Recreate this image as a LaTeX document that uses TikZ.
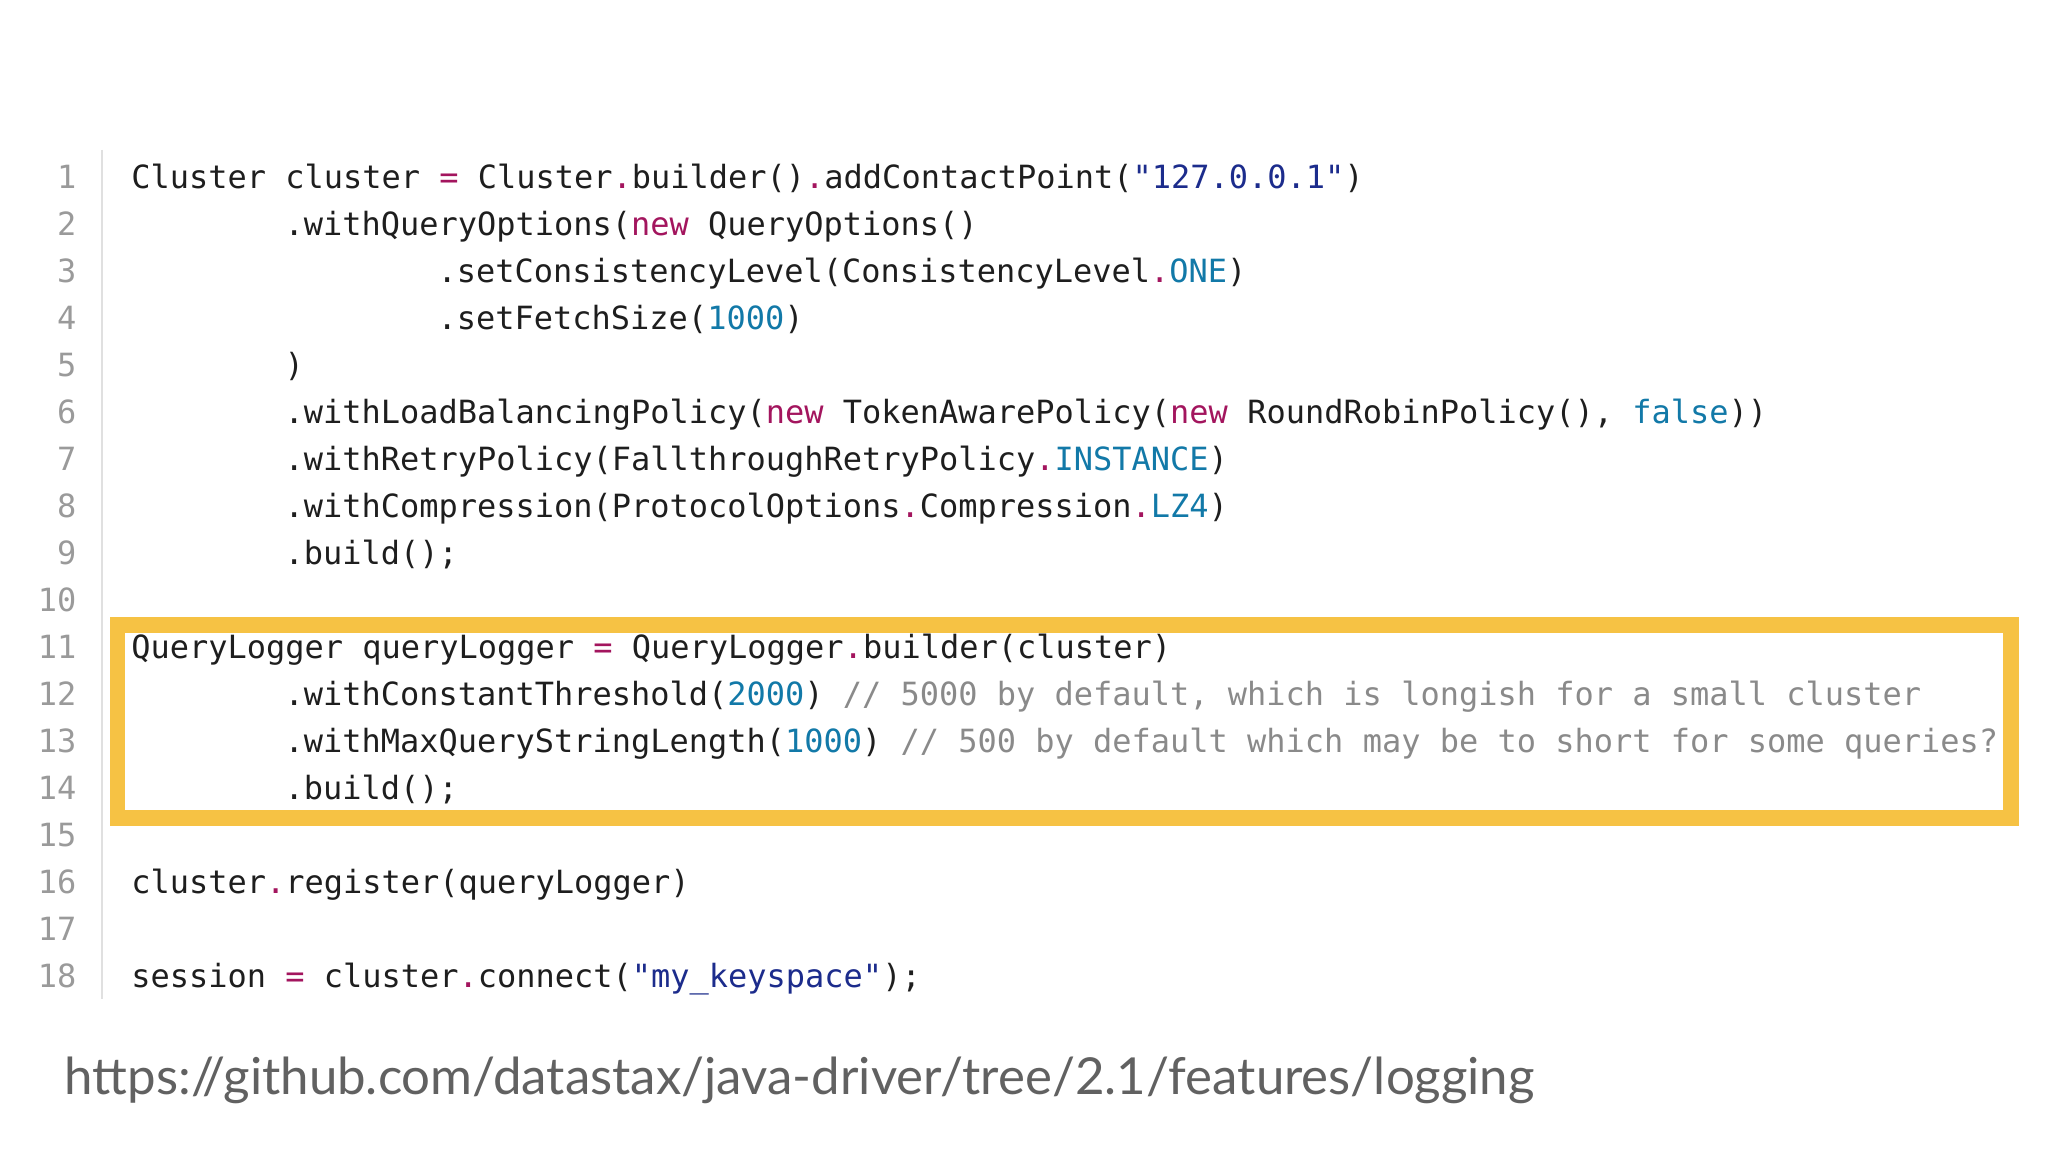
\documentclass[tikz,border=0pt]{standalone}
\usepackage{fontspec}
\setmonofont{DejaVu Sans Mono}
\newfontfamily\urlfont{Lato}
\definecolor{kwc}{HTML}{A3155E}
\definecolor{stc}{HTML}{1C2C8C}
\definecolor{nmc}{HTML}{1279A8}
\definecolor{cmc}{HTML}{8A8A8A}
\definecolor{lnc}{HTML}{9A9A9A}
\definecolor{txc}{HTML}{1E1E1E}
\definecolor{boxc}{HTML}{F6C244}
\newcommand\kw[1]{\textcolor{kwc}{#1}}
\newcommand\stt[1]{\textcolor{stc}{#1}}
\newcommand\nm[1]{\textcolor{nmc}{#1}}
\newcommand\cmt[1]{\textcolor{cmc}{#1}}
\begin{document}
\begin{tikzpicture}[
  code/.style={anchor=base west,inner sep=0pt,font=\ttfamily\fontsize{9.1}{10}\selectfont,text=txc},
  lnum/.style={anchor=base east,inner sep=0pt,font=\ttfamily\fontsize{9.1}{10}\selectfont,text=lnc}]
\useasboundingbox (0,0) rectangle (20.48,-11.52);
\fill[white] (0,0) rectangle (20.48,-11.52);
\draw[black!12,line width=0.6pt] (1.02,-1.50) -- (1.02,-9.99);
\foreach \n in {1,...,18}{
  \node[lnum] (ln\n) at (0.77,{-1.881-0.470*(\n-1)}) {\n};
}
\def\cx#1{{1.306+0.1915*#1}}
\def\ry#1{{-1.881-0.470*(#1-1)}}
\node[code] (l1) at (\cx{0},\ry{1}) {Cluster cluster \kw{=} Cluster\kw{.}builder()\kw{.}addContactPoint(\stt{"127.0.0.1"})};
\node[code] (l2) at (\cx{8},\ry{2}) {.withQueryOptions(\kw{new} QueryOptions()};
\node[code] (l3) at (\cx{16},\ry{3}) {.setConsistencyLevel(ConsistencyLevel\kw{.}\nm{ONE})};
\node[code] (l4) at (\cx{16},\ry{4}) {.setFetchSize(\nm{1000})};
\node[code] (l5) at (\cx{8},\ry{5}) {)};
\node[code] (l6) at (\cx{8},\ry{6}) {.withLoadBalancingPolicy(\kw{new} TokenAwarePolicy(\kw{new} RoundRobinPolicy(), \nm{false}))};
\node[code] (l7) at (\cx{8},\ry{7}) {.withRetryPolicy(FallthroughRetryPolicy\kw{.}\nm{INSTANCE})};
\node[code] (l8) at (\cx{8},\ry{8}) {.withCompression(ProtocolOptions\kw{.}Compression\kw{.}\nm{LZ4})};
\node[code] (l9) at (\cx{8},\ry{9}) {.build();};
\node[code] (l11) at (\cx{0},\ry{11}) {QueryLogger queryLogger \kw{=} QueryLogger\kw{.}builder(cluster)};
\node[code] (l12) at (\cx{8},\ry{12}) {.withConstantThreshold(\nm{2000}) \cmt{// 5000 by default, which is longish for a small cluster}};
\node[code] (l13) at (\cx{8},\ry{13}) {.withMaxQueryStringLength(\nm{1000}) \cmt{// 500 by default which may be to short for some queries?}};
\node[code] (l14) at (\cx{8},\ry{14}) {.build();};
\node[code] (l16) at (\cx{0},\ry{16}) {cluster\kw{.}register(queryLogger)};
\node[code] (l18) at (\cx{0},\ry{18}) {session \kw{=} cluster\kw{.}connect(\stt{"my\_keyspace"});};
\draw[boxc,line width=4.5pt] (1.175,-6.25) rectangle (20.11,-8.18);
\node[anchor=base west,inner sep=0pt,font=\urlfont\fontsize{14.5}{17}\selectfont,text=black!62] (url) at (0.64,-10.94) {https://github.com/datastax/java-driver/tree/2.1/features/logging};
\end{tikzpicture}
\end{document}
